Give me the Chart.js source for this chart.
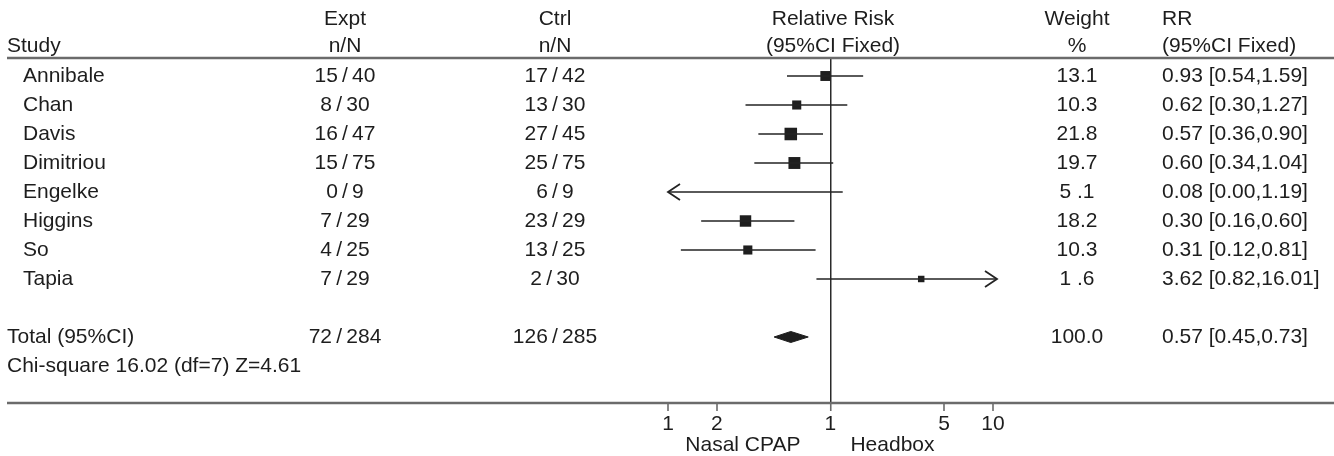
<!DOCTYPE html>
<html><head><meta charset="utf-8">
<script src="https://cdn.jsdelivr.net/npm/chart.js@4.4.1/dist/chart.umd.min.js"></script>
<style>html,body{margin:0;padding:0;background:#fff;overflow:hidden}canvas{display:block}</style>
</head><body>
<canvas id="c" width="1334" height="456"></canvas>
<script>
// ---------- data ----------
const studies    = ['Annibale','Chan','Davis','Dimitriou','Engelke','Higgins','So','Tapia'];
const exptEvents = [15, 8, 16, 15, 0, 7, 4, 7];
const exptTotal  = [40, 30, 47, 75, 9, 29, 25, 29];
const ctrlEvents = [17, 13, 27, 25, 6, 23, 13, 2];
const ctrlTotal  = [42, 30, 45, 75, 9, 29, 25, 30];
const weights    = [13.1, 10.3, 21.8, 19.7, 5.1, 18.2, 10.3, 1.6];
const rr         = [0.93, 0.62, 0.57, 0.60, 0.08, 0.30, 0.31, 3.62];
const rrLow      = [0.54, 0.30, 0.36, 0.34, 0.00, 0.16, 0.12, 0.82];
const rrHigh     = [1.59, 1.27, 0.90, 1.04, 1.19, 0.60, 0.81, 16.01];
const totalLabel = 'Total (95%CI)';
const totalExpt  = [72, 284];
const totalCtrl  = [126, 285];
const totalWeight = 100.0;
const totalRR    = [0.57, 0.45, 0.73];   // estimate, lower, upper
const heterogeneity = 'Chi-square 16.02 (df=7) Z=4.61';
const tickValues = [0.1, 0.2, 1, 5, 10];
const tickLabels = ['1', '2', '1', '5', '10'];
const favourLeft = 'Nasal CPAP';
const favourRight = 'Headbox';
const headers = {
  study: 'Study', expt: ['Expt', 'n/N'], ctrl: ['Ctrl', 'n/N'],
  plot: ['Relative Risk', '(95%CI Fixed)'], weight: ['Weight', '%'], rr: ['RR', '(95%CI Fixed)']
};

// ---------- styling ----------
const X_MIN = 0.1, X_MAX = 10.6;
const FONT = '21px "Liberation Sans", Arial, Helvetica, sans-serif';
const TEXT = '#1d1d1d';
const RULE = '#6b6b6b';
const INK = '#1e1e1e';
const COL = { study: 7, name: 23, expt: 345, ctrl: 555, plot: 833, weight: 1077, rr: 1162 };
const TOTAL_ROW = studies.length + 1;
const HET_ROW = TOTAL_ROW + 1;
const SEP = '\u2009/\u2009';

const fmtW = w => w >= 10 ? w.toFixed(1) : w.toFixed(1).replace('.', ' .');
const fmtRR = (e, l, h) => `${e.toFixed(2)} [${l.toFixed(2)},${h.toFixed(2)}]`;
const squareSide = w => 6 + 0.3 * w;

// ---------- datasets ----------
const datasets = [];
studies.forEach((s, i) => {
  datasets.push({
    type: 'scatter', showLine: true, label: s,
    data: [{ x: Math.max(rrLow[i], X_MIN), y: i }, { x: Math.min(rrHigh[i], X_MAX), y: i }],
    borderColor: '#232323', borderWidth: 1.4, pointRadius: 0, clip: 0
  });
});
datasets.push({
  type: 'scatter', label: 'RR',
  data: rr.map((v, i) => ({ x: v, y: i })),
  pointStyle: 'rect',
  pointRadius: ctx => squareSide(weights[ctx.dataIndex]) / Math.SQRT2,
  backgroundColor: INK, borderWidth: 0, clip: { left: 0, right: 0, top: 30, bottom: 30 }
});
datasets.push({
  type: 'scatter', showLine: true, label: 'Total', fill: 'shape',
  data: [
    { x: totalRR[1], y: TOTAL_ROW }, { x: totalRR[0], y: TOTAL_ROW - 0.19 },
    { x: totalRR[2], y: TOTAL_ROW }, { x: totalRR[0], y: TOTAL_ROW + 0.19 },
    { x: totalRR[1], y: TOTAL_ROW }
  ],
  borderColor: INK, backgroundColor: INK, borderWidth: 1, pointRadius: 0, tension: 0
});

// ---------- plugin: rules, table text, arrows ----------
const tablePlugin = {
  id: 'forestTable',
  beforeDatasetsDraw(chart) {
    const { ctx, chartArea } = chart;
    ctx.save();
    ctx.strokeStyle = RULE; ctx.lineWidth = 2.6;
    ctx.beginPath();
    ctx.moveTo(7, chartArea.top - 1); ctx.lineTo(1334, chartArea.top - 1);
    ctx.moveTo(7, chartArea.bottom); ctx.lineTo(1334, chartArea.bottom);
    ctx.stroke();
    ctx.restore();
  },
  afterDraw(chart) {
    const { ctx, chartArea } = chart;
    const xs = chart.scales.x, ys = chart.scales.y;
    ctx.save();
    ctx.font = FONT; ctx.fillStyle = TEXT; ctx.textBaseline = 'alphabetic';
    const put = (t, x, y, align) => { ctx.textAlign = align; ctx.fillText(t, x, y); };
    const b1 = chartArea.top - 34, b2 = chartArea.top - 7;
    put(headers.study, COL.study, b2, 'left');
    put(headers.expt[0], COL.expt, b1, 'center'); put(headers.expt[1], COL.expt, b2, 'center');
    put(headers.ctrl[0], COL.ctrl, b1, 'center'); put(headers.ctrl[1], COL.ctrl, b2, 'center');
    put(headers.plot[0], COL.plot, b1, 'center'); put(headers.plot[1], COL.plot, b2, 'center');
    put(headers.weight[0], COL.weight, b1, 'center'); put(headers.weight[1], COL.weight, b2, 'center');
    put(headers.rr[0], COL.rr, b1, 'left'); put(headers.rr[1], COL.rr, b2, 'left');

    studies.forEach((s, i) => {
      const y = ys.getPixelForValue(i) + 6;
      put(s, COL.name, y, 'left');
      put(`${exptEvents[i]}${SEP}${exptTotal[i]}`, COL.expt, y, 'center');
      put(`${ctrlEvents[i]}${SEP}${ctrlTotal[i]}`, COL.ctrl, y, 'center');
      put(fmtW(weights[i]), COL.weight, y, 'center');
      put(fmtRR(rr[i], rrLow[i], rrHigh[i]), COL.rr, y, 'left');
    });
    const yt = ys.getPixelForValue(TOTAL_ROW) + 6;
    put(totalLabel, COL.study, yt, 'left');
    put(`${totalExpt[0]}${SEP}${totalExpt[1]}`, COL.expt, yt, 'center');
    put(`${totalCtrl[0]}${SEP}${totalCtrl[1]}`, COL.ctrl, yt, 'center');
    put(totalWeight.toFixed(1), COL.weight, yt, 'center');
    put(fmtRR(totalRR[0], totalRR[1], totalRR[2]), COL.rr, yt, 'left');
    put(heterogeneity, COL.study, ys.getPixelForValue(HET_ROW) + 6, 'left');

    const x1 = xs.getPixelForValue(1);
    put(favourLeft, x1 - 30, chartArea.bottom + 48, 'right');
    put(favourRight, x1 + 20, chartArea.bottom + 48, 'left');

    // arrows for intervals running off the scale
    ctx.strokeStyle = '#232323'; ctx.lineWidth = 1.8;
    studies.forEach((s, i) => {
      const y = ys.getPixelForValue(i);
      if (rrLow[i] < X_MIN) {
        const px = xs.getPixelForValue(X_MIN);
        ctx.beginPath(); ctx.moveTo(px + 12, y - 8); ctx.lineTo(px, y); ctx.lineTo(px + 12, y + 8); ctx.stroke();
      }
      if (rrHigh[i] > X_MAX) {
        const px = xs.getPixelForValue(X_MAX);
        ctx.beginPath(); ctx.moveTo(px - 12, y - 8); ctx.lineTo(px, y); ctx.lineTo(px - 12, y + 8); ctx.stroke();
      }
    });
    ctx.restore();
  }
};

new Chart(document.getElementById('c'), {
  type: 'scatter',
  data: { datasets },
  options: {
    responsive: false, animation: false, devicePixelRatio: 1,
    layout: { padding: { left: 668, right: 337, top: 59, bottom: 13 } },
    plugins: { legend: { display: false }, tooltip: { enabled: false }, title: { display: false } },
    scales: {
      x: {
        type: 'logarithmic', min: X_MIN, max: X_MAX, position: 'bottom',
        afterBuildTicks: s => { s.ticks = tickValues.map(v => ({ value: v })); },
        afterFit: s => { s.height = 40; },
        ticks: {
          autoSkip: false, maxRotation: 0, padding: 1, color: TEXT,
          font: { family: '"Liberation Sans", Arial, sans-serif', size: 21 },
          callback: (v, i) => tickLabels[i]
        },
        grid: {
          display: true, drawOnChartArea: true, drawTicks: true, tickLength: 8,
          color: c => (c.tick && c.tick.value === 1) ? '#2a2a2a' : 'rgba(0,0,0,0)',
          lineWidth: c => (c.tick && c.tick.value === 1) ? 1.5 : 0,
          tickColor: RULE, tickWidth: 1.6
        },
        border: { display: false }
      },
      y: { type: 'linear', display: false, reverse: true, min: -0.586, max: 11.276 }
    }
  },
  plugins: [tablePlugin]
});
</script>
</body></html>
